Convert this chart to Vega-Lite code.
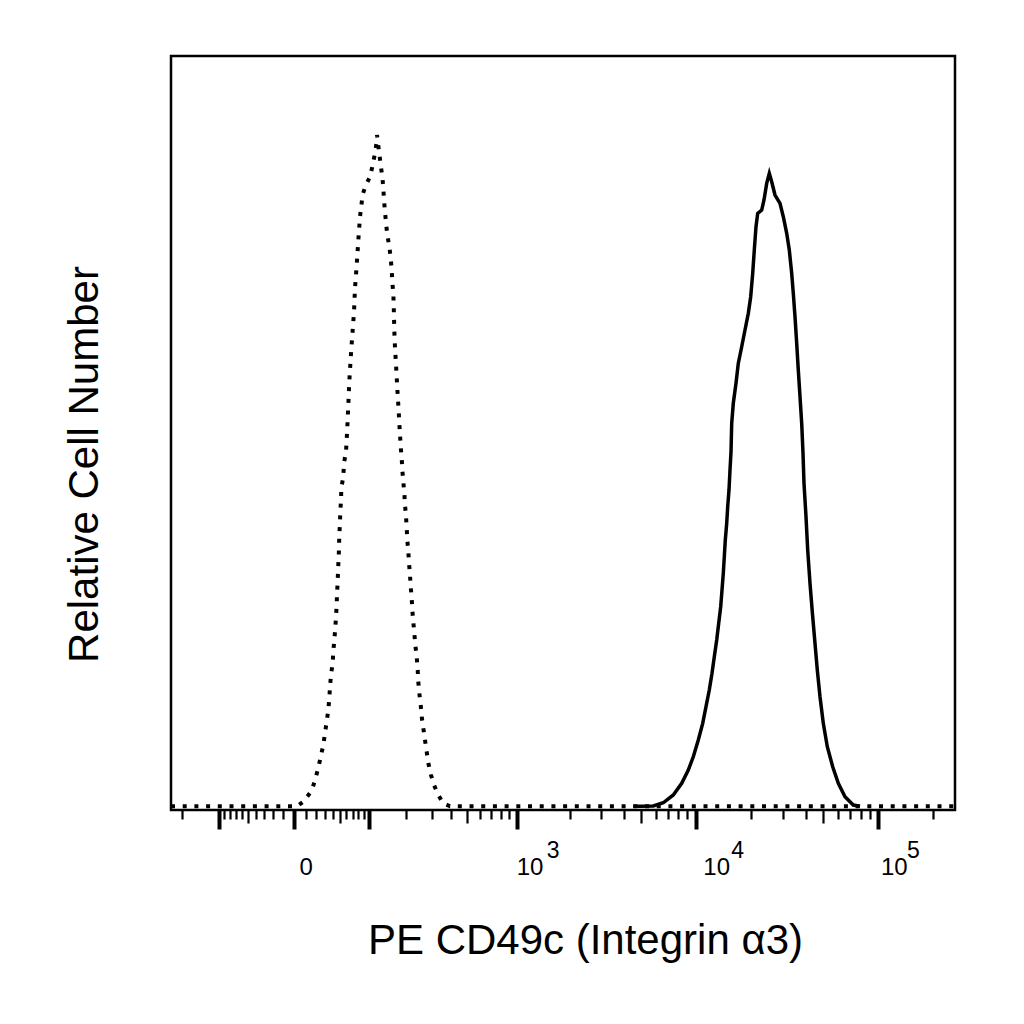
{
  "$schema": "https://vega.github.io/schema/vega-lite/v6.json",
  "width": 784,
  "height": 754,
  "autosize": {"type": "none"},
  "padding": {"left": 171, "top": 56, "right": 69, "bottom": 214},
  "config": {
    "font": "Liberation Sans",
    "view": {"stroke": "black", "strokeWidth": 2.5}
  },
  "datasets": {
    "control": [
      {"pe": -238, "cells": 0}, {"pe": 2.4, "cells": 0}, {"pe": 7.9, "cells": 0.6}, {"pe": 16.0, "cells": 2.06},
      {"pe": 19.4, "cells": 3.47}, {"pe": 22.9, "cells": 5.07}, {"pe": 25.6, "cells": 6.56}, {"pe": 28.6, "cells": 8.12},
      {"pe": 30.6, "cells": 9.71}, {"pe": 32.6, "cells": 11.21}, {"pe": 34.6, "cells": 12.76}, {"pe": 35.9, "cells": 14.35},
      {"pe": 36.8, "cells": 15.85}, {"pe": 38.0, "cells": 17.4}, {"pe": 40.2, "cells": 18.99}, {"pe": 41.0, "cells": 20.49},
      {"pe": 42.4, "cells": 22.04}, {"pe": 43.7, "cells": 23.63}, {"pe": 44.7, "cells": 25.13}, {"pe": 45.6, "cells": 26.68},
      {"pe": 46.1, "cells": 28.28}, {"pe": 47.0, "cells": 29.77}, {"pe": 47.5, "cells": 31.33}, {"pe": 48.4, "cells": 32.92},
      {"pe": 48.9, "cells": 34.42}, {"pe": 49.3, "cells": 35.97}, {"pe": 50.3, "cells": 37.56}, {"pe": 50.7, "cells": 39.06},
      {"pe": 51.8, "cells": 40.61}, {"pe": 52.2, "cells": 42.2}, {"pe": 55.2, "cells": 43.7}, {"pe": 56.2, "cells": 45.52},
      {"pe": 59.3, "cells": 47.02}, {"pe": 61.3, "cells": 50.16}, {"pe": 62.9, "cells": 53.21}, {"pe": 64.5, "cells": 56.3},
      {"pe": 66.8, "cells": 59.44}, {"pe": 69.5, "cells": 62.49}, {"pe": 72.4, "cells": 65.58}, {"pe": 74.1, "cells": 68.73},
      {"pe": 77.1, "cells": 71.78}, {"pe": 80.0, "cells": 75.09}, {"pe": 83.1, "cells": 78.18}, {"pe": 88.2, "cells": 81.19},
      {"pe": 94.6, "cells": 82.39}, {"pe": 102.8, "cells": 83.49}, {"pe": 108.6, "cells": 85.04}, {"pe": 113.7, "cells": 86.63},
      {"pe": 117.5, "cells": 88.13}, {"pe": 118.2, "cells": 89.02}, {"pe": 126.9, "cells": 85.04}, {"pe": 130.8, "cells": 83.49},
      {"pe": 133.3, "cells": 81.99}, {"pe": 135.0, "cells": 80.4}, {"pe": 137.5, "cells": 78.85}, {"pe": 140.1, "cells": 77.35},
      {"pe": 143.5, "cells": 75.76}, {"pe": 148.8, "cells": 74.2}, {"pe": 152.5, "cells": 72.71}, {"pe": 155.3, "cells": 71.11},
      {"pe": 156.9, "cells": 69.56}, {"pe": 159.7, "cells": 68.06}, {"pe": 160.9, "cells": 66.47}, {"pe": 161.7, "cells": 64.92},
      {"pe": 162.6, "cells": 63.16}, {"pe": 163.7, "cells": 61.61}, {"pe": 165.5, "cells": 60.11}, {"pe": 167.5, "cells": 58.51},
      {"pe": 169.5, "cells": 56.96}, {"pe": 171.3, "cells": 55.46}, {"pe": 173.4, "cells": 53.87}, {"pe": 175.5, "cells": 52.32},
      {"pe": 177.3, "cells": 50.82}, {"pe": 179.5, "cells": 49.23}, {"pe": 181.6, "cells": 47.68}, {"pe": 184.7, "cells": 46.18},
      {"pe": 186.6, "cells": 44.59}, {"pe": 189.8, "cells": 43.04}, {"pe": 193.0, "cells": 41.54}, {"pe": 195.3, "cells": 39.95},
      {"pe": 198.6, "cells": 38.4}, {"pe": 200.9, "cells": 36.9}, {"pe": 202.9, "cells": 35.31}, {"pe": 206.3, "cells": 33.75},
      {"pe": 208.7, "cells": 32.25}, {"pe": 212.1, "cells": 30.66}, {"pe": 214.6, "cells": 29.11}, {"pe": 218.1, "cells": 27.61},
      {"pe": 220.2, "cells": 26.02}, {"pe": 223.8, "cells": 24.47}, {"pe": 227.5, "cells": 22.97}, {"pe": 231.2, "cells": 21.38},
      {"pe": 236.4, "cells": 19.83}, {"pe": 240.2, "cells": 18.06}, {"pe": 242.5, "cells": 16.51}, {"pe": 246.4, "cells": 15.01},
      {"pe": 251.9, "cells": 13.42}, {"pe": 256.0, "cells": 11.87}, {"pe": 262.5, "cells": 10.37}, {"pe": 269.5, "cells": 8.78},
      {"pe": 276.7, "cells": 7.23}, {"pe": 283.7, "cells": 5.73}, {"pe": 295.7, "cells": 4.14}, {"pe": 309.5, "cells": 2.81},
      {"pe": 330.3, "cells": 1.49}, {"pe": 355.9, "cells": 0.38}, {"pe": 392.9, "cells": 0}, {"pe": 262144, "cells": 0}
    ],
    "cd49c": [
      {"pe": 4521, "cells": 0}, {"pe": 4924, "cells": 0}, {"pe": 5832, "cells": 0.03}, {"pe": 6622, "cells": 0.46},
      {"pe": 7518, "cells": 1.49}, {"pe": 8364, "cells": 3.04}, {"pe": 9093, "cells": 4.8}, {"pe": 9687, "cells": 6.56},
      {"pe": 10320, "cells": 8.78}, {"pe": 10912, "cells": 10.99}, {"pe": 11377, "cells": 13.2}, {"pe": 11861, "cells": 15.41},
      {"pe": 12274, "cells": 17.63}, {"pe": 12636, "cells": 19.83}, {"pe": 13025, "cells": 22.04}, {"pe": 13358, "cells": 24.26},
      {"pe": 13700, "cells": 26.46}, {"pe": 13927, "cells": 28.67}, {"pe": 14158, "cells": 30.89}, {"pe": 14338, "cells": 33.09},
      {"pe": 14520, "cells": 35.31}, {"pe": 14779, "cells": 37.52}, {"pe": 14967, "cells": 39.72}, {"pe": 15215, "cells": 41.94},
      {"pe": 15408, "cells": 44.59}, {"pe": 15604, "cells": 46.98}, {"pe": 15743, "cells": 50.78}, {"pe": 16064, "cells": 53.44},
      {"pe": 16622, "cells": 56.09}, {"pe": 17112, "cells": 58.74}, {"pe": 17861, "cells": 60.94}, {"pe": 18621, "cells": 63.16},
      {"pe": 19413, "cells": 65.37}, {"pe": 20010, "cells": 67.57}, {"pe": 20521, "cells": 70.68}, {"pe": 20940, "cells": 73.77},
      {"pe": 21394, "cells": 76.86}, {"pe": 21858, "cells": 78.63}, {"pe": 22989, "cells": 79.07}, {"pe": 23666, "cells": 80.4},
      {"pe": 24485, "cells": 82.61}, {"pe": 25301, "cells": 83.94}, {"pe": 26079, "cells": 82.82}, {"pe": 27187, "cells": 81.06},
      {"pe": 28956, "cells": 79.96}, {"pe": 30186, "cells": 78.18}, {"pe": 31507, "cells": 75.98}, {"pe": 32557, "cells": 73.77},
      {"pe": 33556, "cells": 70.68}, {"pe": 34240, "cells": 68.02}, {"pe": 34981, "cells": 64.92}, {"pe": 35739, "cells": 61.39},
      {"pe": 36466, "cells": 57.85}, {"pe": 37257, "cells": 54.31}, {"pe": 38063, "cells": 50.78}, {"pe": 38692, "cells": 46.84},
      {"pe": 39183, "cells": 42.82}, {"pe": 40182, "cells": 38.4}, {"pe": 41052, "cells": 33.98}, {"pe": 42259, "cells": 29.56},
      {"pe": 43721, "cells": 25.13}, {"pe": 45007, "cells": 21.6}, {"pe": 46330, "cells": 18.06}, {"pe": 47932, "cells": 14.52},
      {"pe": 49966, "cells": 10.99}, {"pe": 52549, "cells": 7.89}, {"pe": 56246, "cells": 5.24}, {"pe": 60356, "cells": 3.04},
      {"pe": 65668, "cells": 1.26}, {"pe": 72900, "cells": 0.16}, {"pe": 79315, "cells": 0}
    ]
  },
  "encoding": {
    "y": {
      "field": "cells",
      "type": "quantitative",
      "scale": {"domain": [-0.5, 99.5], "nice": false, "zero": false},
      "axis": {
        "title": "Relative Cell Number",
        "titleFont": "Liberation Sans",
        "titleFontSize": 42,
        "titleFontWeight": "normal",
        "titleColor": "black",
        "titleAngle": -90,
        "titleX": -74,
        "titleY": 408,
        "titleAlign": "center",
        "titleBaseline": "alphabetic",
        "grid": false,
        "domain": false,
        "ticks": false,
        "labels": false
      }
    }
  },
  "layer": [
    {
      "data": {"name": "control"},
      "mark": {"type": "line", "color": "black", "strokeWidth": 4, "strokeDash": [4, 7.7], "strokeCap": "butt"},
      "encoding": {
        "x": {
          "field": "pe",
          "type": "quantitative",
          "scale": {"type": "symlog", "constant": 64.3, "domain": [-238, 262144], "nice": false, "zero": false},
          "axis": {
            "orient": "bottom",
            "title": "PE CD49c (Integrin α3)",
            "titleFont": "Liberation Sans",
            "titleFontSize": 42,
            "titleFontWeight": "normal",
            "titleColor": "black",
            "titleX": 414,
            "titleY": 143,
            "titleAlign": "center",
            "titleBaseline": "alphabetic",
            "grid": false,
            "domain": false,
            "tickColor": "black",
            "values": [-200, -100, -90, -80, -70, -60, -50, -40, -30, -20, -10, 0, 10, 20, 30, 40, 50, 60, 70, 80, 90,
              100, 200, 300, 400, 500, 600, 700, 800, 900, 1000, 2000, 3000, 4000, 5000, 6000, 7000, 8000, 9000,
              10000, 20000, 30000, 40000, 50000, 60000, 70000, 80000, 90000, 100000, 200000],
            "tickSize": {
              "condition": [
                {"test": "indexof([-100, 0, 100, 1000, 10000, 100000], datum.value) >= 0", "value": 19},
                {"test": "indexof([-50, 50, 500, 5000, 50000], datum.value) >= 0", "value": 13}
              ],
              "value": 9
            },
            "tickWidth": {
              "condition": {"test": "indexof([-100, 0, 100, 1000, 10000, 100000], datum.value) >= 0", "value": 4},
              "value": 2.2
            },
            "labelExpr": "datum.value == 0 ? '0' : indexof([1000, 10000, 100000], datum.value) >= 0 ? '10' : ''",
            "labelFont": "Liberation Sans",
            "labelFontSize": 24,
            "labelColor": "black",
            "labelAlign": "left",
            "labelBaseline": "alphabetic",
            "labelPadding": 45,
            "labelOffset": {
              "condition": [
                {"test": "datum.value == 0", "value": 5},
                {"test": "datum.value == 10000", "value": 7},
                {"test": "datum.value == 100000", "value": 2}
              ],
              "value": -1
            },
            "labelOverlap": false,
            "labelFlush": false,
            "labelBound": false
          }
        }
      }
    },
    {
      "data": {"name": "cd49c"},
      "mark": {"type": "line", "color": "black", "strokeWidth": 3.5},
      "encoding": {
        "x": {
          "field": "pe",
          "type": "quantitative",
          "scale": {"type": "symlog", "constant": 64.3, "domain": [-238, 262144], "nice": false, "zero": false},
          "axis": {
            "orient": "bottom",
            "title": null,
            "grid": false,
            "domain": false,
            "ticks": false,
            "values": [1000, 10000, 100000],
            "labelExpr": "datum.value == 1000 ? '3' : datum.value == 10000 ? '4' : '5'",
            "labelFont": "Liberation Sans",
            "labelFontSize": 23,
            "labelColor": "black",
            "labelAlign": "left",
            "labelBaseline": "alphabetic",
            "labelPadding": 47,
            "labelOffset": {
              "condition": [
                {"test": "datum.value == 1000", "value": 29},
                {"test": "datum.value == 10000", "value": 35}
              ],
              "value": 28
            },
            "labelOverlap": false,
            "labelFlush": false,
            "labelBound": false
          }
        }
      }
    }
  ],
  "resolve": {"axis": {"x": "independent"}}
}
